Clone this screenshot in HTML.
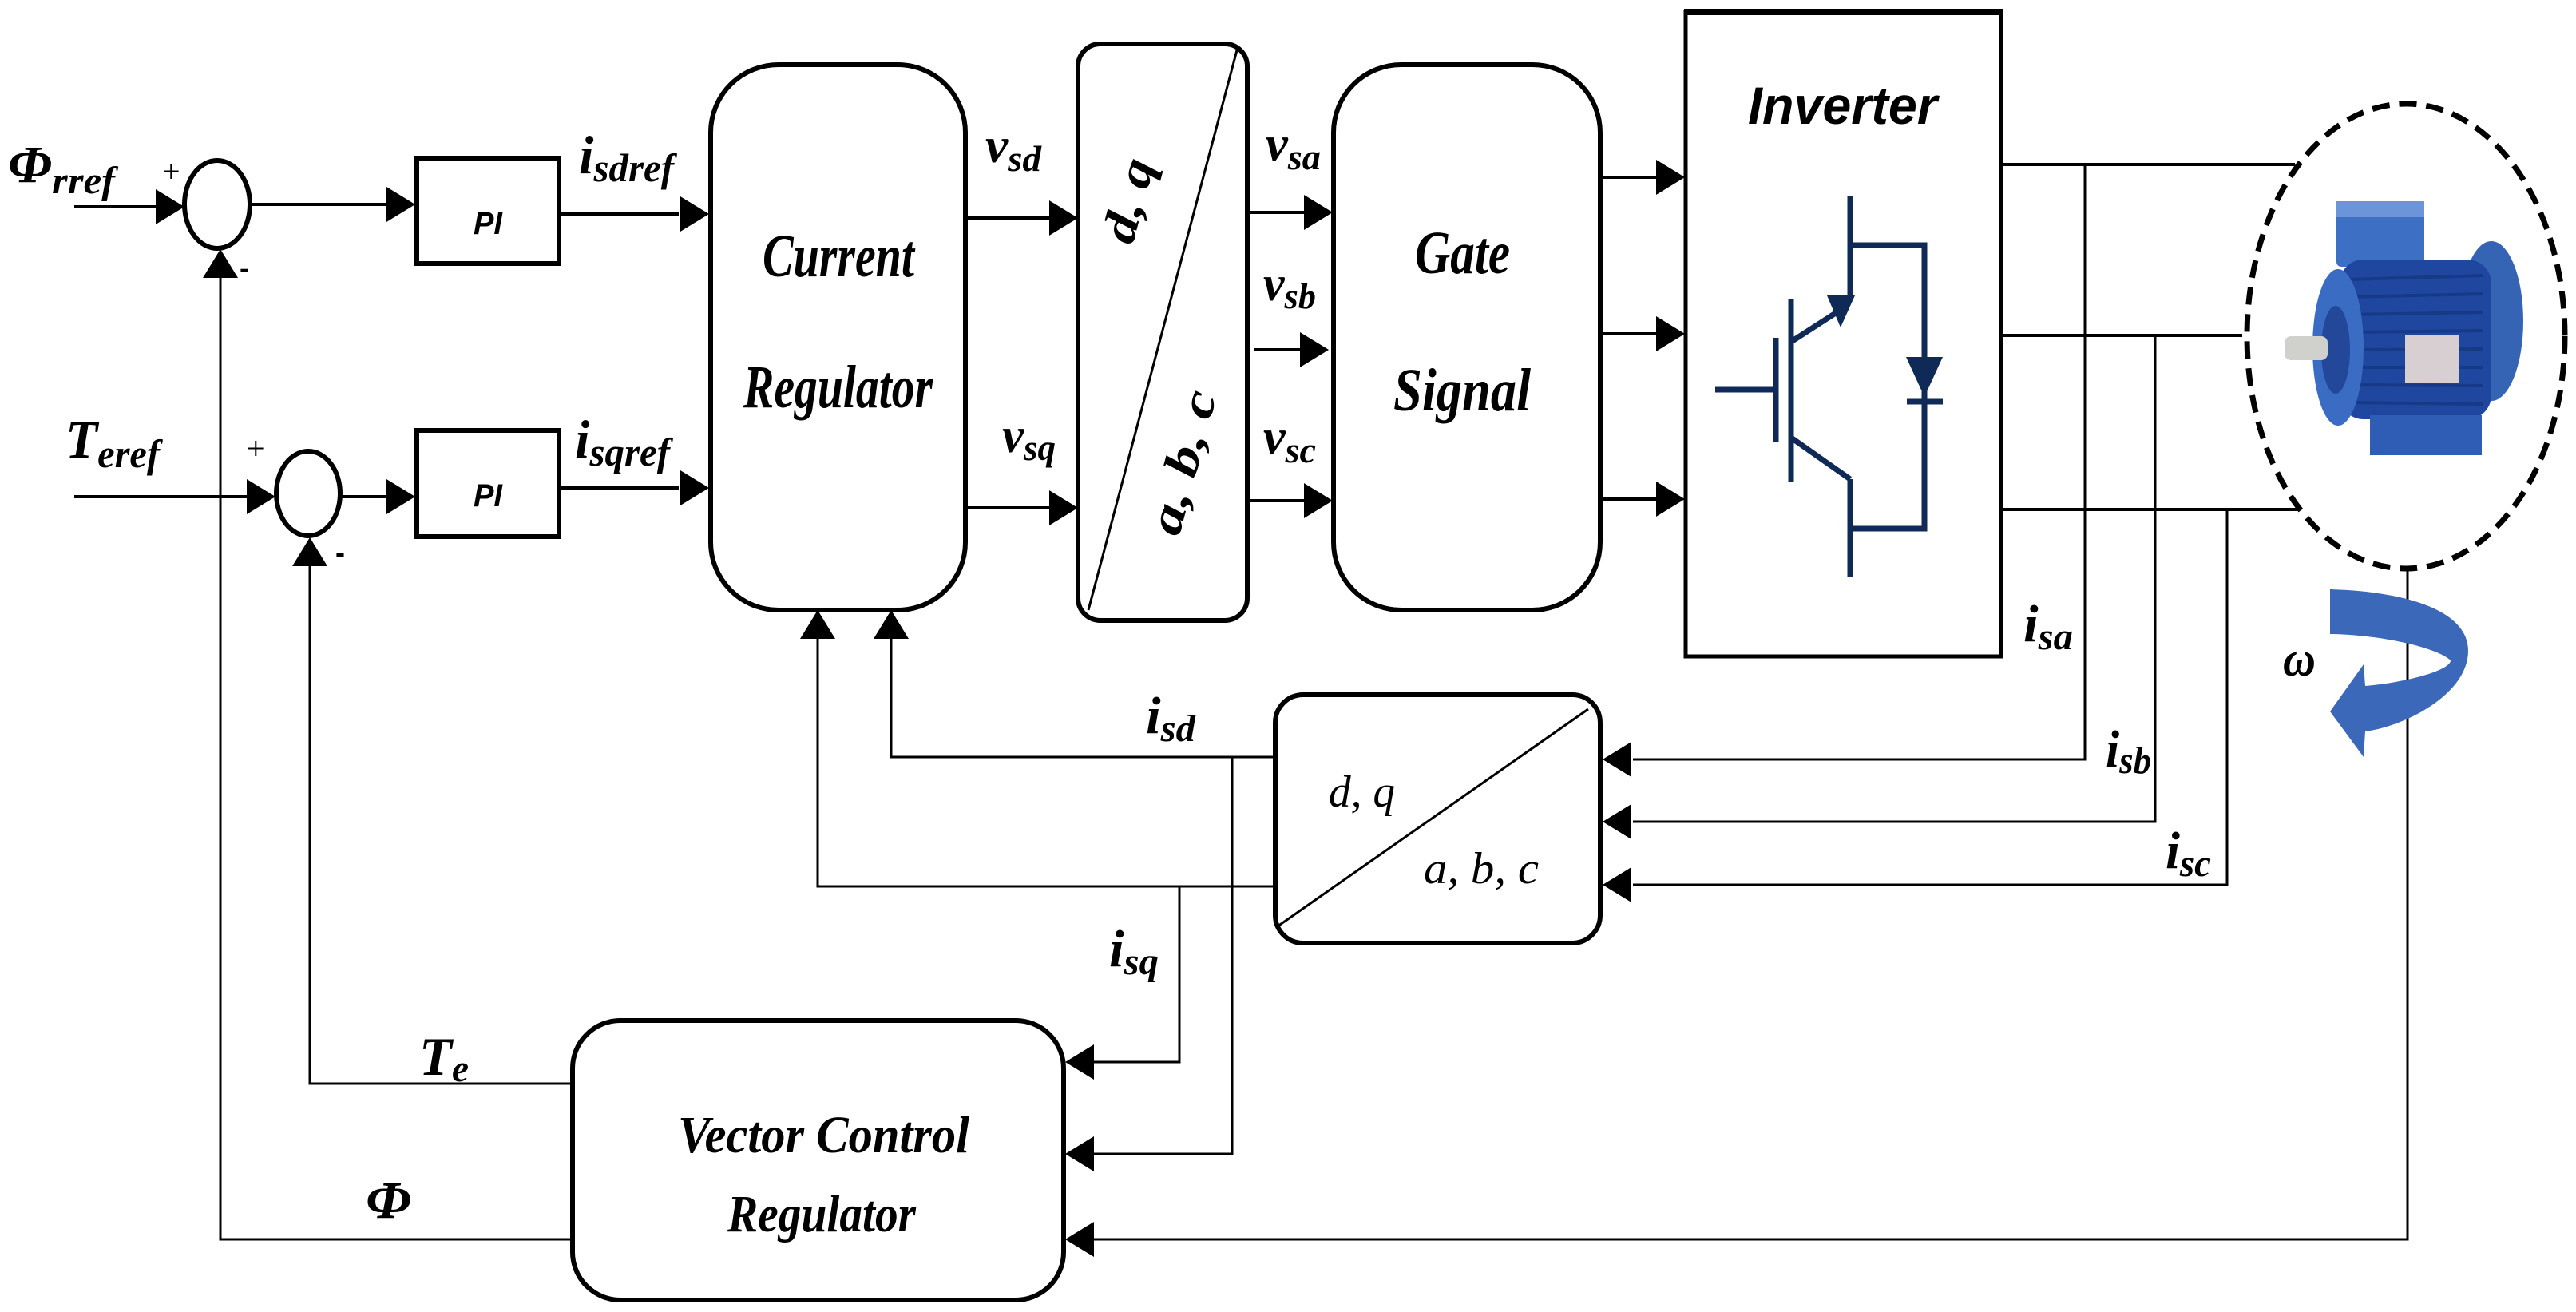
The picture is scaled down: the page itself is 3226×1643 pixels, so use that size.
<!DOCTYPE html>
<html><head><meta charset="utf-8"><style>
html,body{margin:0;padding:0;background:#fff;}
svg{display:block;}
.t{font-family:"Liberation Serif",serif;font-style:italic;font-weight:bold;fill:#000;}
.n{font-family:"Liberation Serif",serif;font-style:italic;fill:#000;}
.s{font-family:"Liberation Sans",sans-serif;font-style:italic;font-weight:bold;fill:#000;}
</style></head><body>
<svg width="3226" height="1643" viewBox="0 0 3226 1643" xmlns="http://www.w3.org/2000/svg">
<g fill="none" stroke="#000">
<ellipse cx="272" cy="256" rx="41" ry="55" stroke-width="6"/>
<ellipse cx="386" cy="618" rx="40" ry="53" stroke-width="6"/>
<rect x="522" y="198" width="178" height="132" stroke-width="6"/>
<rect x="522" y="539" width="178" height="133" stroke-width="6"/>
<rect x="890" y="81" width="319" height="683" rx="85" ry="85" stroke-width="6"/>
<rect x="1350" y="55" width="212" height="722" rx="28" ry="28" stroke-width="6"/>
<line x1="1363" y1="764" x2="1549" y2="63" stroke-width="3"/>
<rect x="1670" y="81" width="334" height="683" rx="85" ry="85" stroke-width="6"/>
<rect x="2111" y="15" width="395" height="807" stroke-width="5"/>
<line x1="2109" y1="15" x2="2508" y2="15" stroke-width="8"/>
<rect x="1597" y="870" width="407" height="311" rx="35" ry="35" stroke-width="6"/>
<line x1="1600" y1="1160" x2="1989" y2="888" stroke-width="3"/>
<rect x="717" y="1278" width="615" height="350" rx="60" ry="60" stroke-width="6"/>
<ellipse cx="3013" cy="421" rx="199" ry="291" stroke-width="7" stroke-dasharray="22 12"/>

<g stroke-width="4">
<line x1="93" y1="259" x2="200" y2="259"/>
<line x1="314" y1="256" x2="490" y2="256"/>
<line x1="700" y1="268" x2="850" y2="268"/>
<line x1="93" y1="622" x2="315" y2="622"/>
<line x1="427" y1="622" x2="490" y2="622"/>
<line x1="700" y1="611" x2="850" y2="611"/>
<line x1="1209" y1="273" x2="1315" y2="273"/>
<line x1="1209" y1="636" x2="1315" y2="636"/>
<line x1="1562" y1="266" x2="1635" y2="266"/>
<line x1="1571" y1="438" x2="1630" y2="438"/>
<line x1="1562" y1="627" x2="1635" y2="627"/>
<line x1="2004" y1="222" x2="2075" y2="222"/>
<line x1="2004" y1="418" x2="2075" y2="418"/>
<line x1="2004" y1="625" x2="2075" y2="625"/>
<line x1="2506" y1="206" x2="2874" y2="206"/>
<line x1="2506" y1="420" x2="2808" y2="420"/>
<line x1="2506" y1="638" x2="2880" y2="638"/>
</g>
<g stroke-width="3">
<polyline points="717,1552 276,1552 276,345"/>
<polyline points="717,1357 388,1357 388,705"/>
<polyline points="2611,206 2611,951 2045,951"/>
<polyline points="2699,420 2699,1029 2045,1029"/>
<polyline points="2789,638 2789,1108 2045,1108"/>
<polyline points="3015,713 3015,1552 1368,1552"/>
<polyline points="1597,948 1116,948 1116,798"/>
<polyline points="1597,1110 1024,1110 1024,798"/>
<polyline points="1543,948 1543,1445 1368,1445"/>
<polyline points="1477,1110 1477,1330 1368,1330"/>
</g>
</g>

<g fill="#000">
<polygon points="231,259 195,237 195,281"/>
<polygon points="520,256 484,234 484,278"/>
<polygon points="888,268 852,246 852,290"/>
<polygon points="345,622 309,600 309,644"/>
<polygon points="520,622 484,600 484,644"/>
<polygon points="888,611 852,589 852,633"/>
<polygon points="276,312 254,348 298,348"/>
<polygon points="388,673 366,709 410,709"/>
<polygon points="1350,273 1314,251 1314,295"/>
<polygon points="1350,636 1314,614 1314,658"/>
<polygon points="1669,266 1633,244 1633,288"/>
<polygon points="1664,438 1628,416 1628,460"/>
<polygon points="1669,627 1633,605 1633,649"/>
<polygon points="2110,222 2074,200 2074,244"/>
<polygon points="2110,418 2074,396 2074,440"/>
<polygon points="2110,625 2074,603 2074,647"/>
<polygon points="2007,951 2043,929 2043,973"/>
<polygon points="2007,1029 2043,1007 2043,1051"/>
<polygon points="2007,1108 2043,1086 2043,1130"/>
<polygon points="1334,1552 1370,1530 1370,1574"/>
<polygon points="1334,1445 1370,1423 1370,1467"/>
<polygon points="1334,1330 1370,1308 1370,1352"/>
<polygon points="1116,764 1094,800 1138,800"/>
<polygon points="1024,764 1002,800 1046,800"/>
</g>

<g stroke="#0f2a57" stroke-width="7" fill="none">
<polyline points="2317,245 2317,370"/>
<polyline points="2317,307 2410,307 2410,662 2317,662"/>
<polyline points="2317,600 2317,722"/>
<line x1="2243" y1="375" x2="2243" y2="603"/>
<line x1="2224" y1="423" x2="2224" y2="553"/>
<line x1="2148" y1="488" x2="2222" y2="488"/>
<line x1="2243" y1="428" x2="2305" y2="388"/>
<line x1="2243" y1="548" x2="2317" y2="600"/>
<line x1="2388" y1="503" x2="2433" y2="503"/>
</g>
<g fill="#0f2a57">
<polygon points="2288,370 2323,370 2305,410"/>
<polygon points="2387,447 2433,447 2410,497"/>
</g>

<g>
<rect x="2926" y="252" width="110" height="82" fill="#3d6fc4" rx="6"/>
<rect x="2926" y="252" width="110" height="20" fill="#6b95d8"/>
<ellipse cx="3120" cy="402" rx="40" ry="100" fill="#3564b5"/>
<rect x="2930" y="325" width="190" height="200" fill="#1f47a0" rx="30"/>
<g stroke="#163a86" stroke-width="4">
<line x1="2940" y1="350" x2="3110" y2="345"/><line x1="2940" y1="372" x2="3110" y2="368"/>
<line x1="2940" y1="394" x2="3110" y2="391"/><line x1="2940" y1="416" x2="3110" y2="414"/>
<line x1="2940" y1="438" x2="3110" y2="437"/><line x1="2940" y1="460" x2="3110" y2="460"/>
<line x1="2940" y1="482" x2="3110" y2="483"/><line x1="2940" y1="504" x2="3110" y2="506"/>
</g>
<ellipse cx="2928" cy="435" rx="32" ry="98" fill="#3a6cc4"/>
<ellipse cx="2925" cy="438" rx="18" ry="55" fill="#23489a"/>
<rect x="2968" y="520" width="140" height="50" fill="#2f5db5"/>
<rect x="3012" y="419" width="67" height="60" fill="#d8cfd3"/>
<rect x="2861" y="421" width="54" height="30" fill="#d0d0cc" rx="8"/>
</g>
<path d="M2918,738 C3000,740 3091,760 3091,815 C3091,870 3010,910 2962,916 L2960,948 L2918,891 L2960,832 L2962,859 C3010,855 3069,840 3069,827 C3050,810 2980,795 2918,794 Z" fill="#3b68b8"/>

<text class="t" x="10" y="228" textLength="134" lengthAdjust="spacingAndGlyphs"><tspan font-size="66">Φ</tspan><tspan font-size="48" dy="14">rref</tspan></text>
<text class="t" x="725" y="217" textLength="119" lengthAdjust="spacingAndGlyphs"><tspan font-size="68">i</tspan><tspan font-size="50" dy="10">sdref</tspan></text>
<text class="t" x="720" y="573" textLength="119" lengthAdjust="spacingAndGlyphs"><tspan font-size="68">i</tspan><tspan font-size="50" dy="10">sqref</tspan></text>
<text class="t" x="82" y="573" textLength="118" lengthAdjust="spacingAndGlyphs"><tspan font-size="68">T</tspan><tspan font-size="50" dy="12">eref</tspan></text>
<text class="t" x="1234" y="203" textLength="70" lengthAdjust="spacingAndGlyphs"><tspan font-size="62">v</tspan><tspan font-size="46" dy="11">sd</tspan></text>
<text class="t" x="1255" y="566" textLength="67" lengthAdjust="spacingAndGlyphs"><tspan font-size="62">v</tspan><tspan font-size="46" dy="10">sq</tspan></text>
<text class="t" x="1585" y="201" textLength="69" lengthAdjust="spacingAndGlyphs"><tspan font-size="62">v</tspan><tspan font-size="46" dy="11">sa</tspan></text>
<text class="t" x="1582" y="376" textLength="66" lengthAdjust="spacingAndGlyphs"><tspan font-size="62">v</tspan><tspan font-size="46" dy="10">sb</tspan></text>
<text class="t" x="1582" y="568" textLength="66" lengthAdjust="spacingAndGlyphs"><tspan font-size="62">v</tspan><tspan font-size="46" dy="11">sc</tspan></text>
<text class="t" x="1435" y="918" textLength="62" lengthAdjust="spacingAndGlyphs"><tspan font-size="66">i</tspan><tspan font-size="48" dy="10">sd</tspan></text>
<text class="t" x="1389" y="1210" textLength="62" lengthAdjust="spacingAndGlyphs"><tspan font-size="66">i</tspan><tspan font-size="48" dy="10">sq</tspan></text>
<text class="t" x="2534" y="803" textLength="62" lengthAdjust="spacingAndGlyphs"><tspan font-size="66">i</tspan><tspan font-size="48" dy="10">sa</tspan></text>
<text class="t" x="2637" y="960" textLength="57" lengthAdjust="spacingAndGlyphs"><tspan font-size="66">i</tspan><tspan font-size="48" dy="8">sb</tspan></text>
<text class="t" x="2712" y="1087" textLength="57" lengthAdjust="spacingAndGlyphs"><tspan font-size="66">i</tspan><tspan font-size="48" dy="10">sc</tspan></text>
<text class="t" x="525" y="1346" textLength="62" lengthAdjust="spacingAndGlyphs"><tspan font-size="68">T</tspan><tspan font-size="48" dy="8">e</tspan></text>
<text class="t" x="458" y="1525" font-size="66" textLength="57" lengthAdjust="spacingAndGlyphs">Φ</text>
<text class="t" x="2859" y="846" font-size="62" textLength="41" lengthAdjust="spacingAndGlyphs">ω</text>
<text x="203" y="228" font-family="Liberation Serif,serif" font-size="40">+</text>
<text x="309" y="575" font-family="Liberation Serif,serif" font-size="40">+</text>
<text x="300" y="348" font-family="Liberation Sans,sans-serif" font-weight="bold" font-size="36">-</text>
<text x="420" y="704" font-family="Liberation Sans,sans-serif" font-weight="bold" font-size="36">-</text>
<text class="s" x="611" y="293" font-size="40" text-anchor="middle" textLength="36" lengthAdjust="spacingAndGlyphs">PI</text>
<text class="s" x="611" y="634" font-size="40" text-anchor="middle" textLength="36" lengthAdjust="spacingAndGlyphs">PI</text>
<text class="t" x="955" y="346" font-size="76" textLength="190" lengthAdjust="spacingAndGlyphs">Current</text>
<text class="t" x="931" y="510" font-size="76" textLength="237" lengthAdjust="spacingAndGlyphs">Regulator</text>
<text class="t" x="1772" y="342" font-size="76" textLength="119" lengthAdjust="spacingAndGlyphs">Gate</text>
<text class="t" x="1745" y="514" font-size="76" textLength="172" lengthAdjust="spacingAndGlyphs">Signal</text>
<text class="s" x="2189" y="155" font-size="66" textLength="237" lengthAdjust="spacingAndGlyphs">Inverter</text>
<text class="t" x="849" y="1443" font-size="66" textLength="365" lengthAdjust="spacingAndGlyphs">Vector  Control</text>
<text class="t" x="911" y="1542" font-size="66" textLength="236" lengthAdjust="spacingAndGlyphs">Regulator</text>
<text class="t" font-size="60" text-anchor="middle" transform="translate(1432,256) rotate(-75)" textLength="107" lengthAdjust="spacingAndGlyphs">d, q</text>
<text class="t" font-size="60" text-anchor="middle" transform="translate(1500,584) rotate(-75)" textLength="184" lengthAdjust="spacingAndGlyphs">a, b, c</text>
<text class="n" x="1664" y="1010" font-size="56" textLength="83" lengthAdjust="spacingAndGlyphs">d, q</text>
<text class="n" x="1783" y="1106" font-size="56" textLength="144" lengthAdjust="spacingAndGlyphs">a, b, c</text>
</svg>
</body></html>
